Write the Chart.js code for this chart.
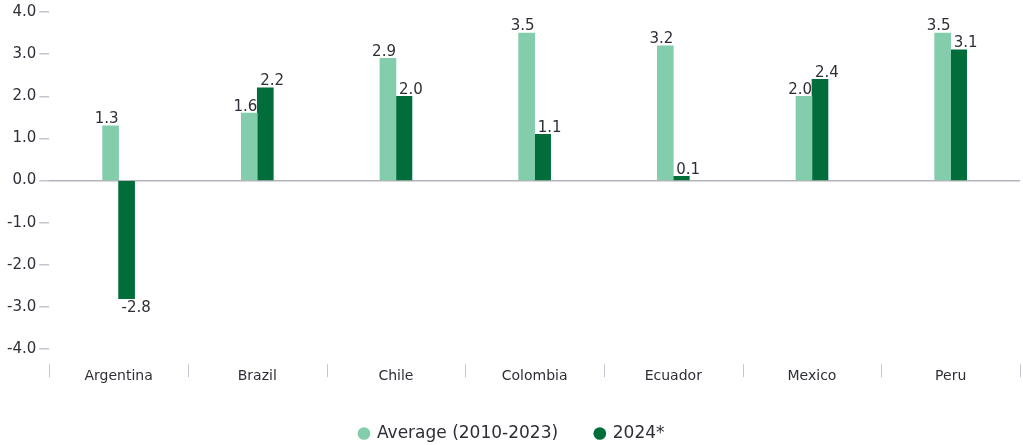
<!DOCTYPE html>
<html>
<head>
<meta charset="utf-8">
<title>Real GDP growth</title>
<script src="https://cdn.jsdelivr.net/npm/chart.js@4/dist/chart.umd.min.js"></script>
<style>
  html, body { margin: 0; padding: 0; background: #fff; }
  #wrap { width: 1023px; height: 445px; }
</style>
</head>
<body>
<div id="wrap"><canvas id="growthChart" width="1023" height="445"></canvas></div>
<script>
const countries = ['Argentina', 'Brazil', 'Chile', 'Colombia', 'Ecuador', 'Mexico', 'Peru'];
const average2010to2023 = [1.3, 1.6, 2.9, 3.5, 3.2, 2.0, 3.5];
const growth2024 = [-2.8, 2.2, 2.0, 1.1, 0.1, 2.4, 3.1];
const seriesNames = ['Average (2010-2023)', '2024*'];

const lightGreen = '#83cdad';
const darkGreen = '#016d3a';
const textColor = '#2e2e38';
const ruleColor = '#c4c4cd';

// value labels: light bar text hugs its right edge, dark bar text starts at its left edge
const barValues = {
  id: 'barValues',
  afterDatasetsDraw(chart) {
    const ctx = chart.ctx;
    ctx.save();
    ctx.font = '15px "DejaVu Sans"';
    ctx.fillStyle = textColor;
    chart.data.datasets.forEach((ds, di) => {
      const meta = chart.getDatasetMeta(di);
      meta.data.forEach((bar, i) => {
        const v = ds.data[i];
        const half = bar.width / 2;
        let x;
        if (di === 0) {
          ctx.textAlign = 'right';
          x = bar.x + half;
        } else {
          ctx.textAlign = 'left';
          x = bar.x - half + 3;
        }
        if (v >= 0) {
          ctx.textBaseline = 'bottom';
          ctx.fillText(v.toFixed(1), x, bar.y + 1);
        } else {
          ctx.textBaseline = 'top';
          ctx.fillText(v.toFixed(1), x, bar.y + 2);
        }
      });
    });
    ctx.restore();
  }
};

// short separators between the country groups, a little below the plot
const groupTicks = {
  id: 'groupTicks',
  afterDraw(chart) {
    const xs = chart.scales.x;
    const n = countries.length;
    const step = (xs.right - xs.left) / n;
    const top = chart.chartArea.bottom + 15;
    const ctx = chart.ctx;
    ctx.save();
    ctx.strokeStyle = ruleColor;
    ctx.lineWidth = 1;
    for (let i = 0; i <= n; i++) {
      const x = Math.round(xs.left + i * step) + 0.5;
      ctx.beginPath();
      ctx.moveTo(x, top);
      ctx.lineTo(x, top + 13);
      ctx.stroke();
    }
    ctx.restore();
  }
};

const defaultLabels = Chart.defaults.plugins.legend.labels.generateLabels;

new Chart(document.getElementById('growthChart'), {
  type: 'bar',
  data: {
    labels: countries,
    datasets: [
      { label: seriesNames[0], data: average2010to2023, backgroundColor: lightGreen, barThickness: 16 },
      { label: seriesNames[1], data: growth2024, backgroundColor: darkGreen, barThickness: 16 }
    ]
  },
  options: {
    responsive: false,
    animation: false,
    layout: { padding: { top: 5, right: 3, left: 4, bottom: -7 } },
    plugins: {
      tooltip: { enabled: false },
      legend: {
        position: 'bottom',
        labels: {
          usePointStyle: true,
          pointStyle: 'circle',
          boxWidth: 9,
          boxHeight: 9,
          padding: 21,
          color: textColor,
          font: { family: 'DejaVu Sans', size: 17 },
          // extra room after the first entry without a taller legend row
          generateLabels: chart => defaultLabels(chart).map((item, i) => {
            if (i === 0) item.text += '   ';
            return item;
          })
        }
      }
    },
    scales: {
      x: {
        grid: { display: false, drawTicks: false },
        border: { display: false },
        ticks: {
          color: textColor,
          padding: 19,
          font: { family: 'DejaVu Sans', size: 14 }
        }
      },
      y: {
        min: -4,
        max: 4,
        border: { display: false },
        grid: {
          color: ctx => ctx.tick && ctx.tick.value === 0 ? '#b4b4bc' : 'transparent',
          tickColor: ruleColor,
          tickLength: 10,
          lineWidth: 1.5
        },
        ticks: {
          stepSize: 1,
          padding: 3,
          color: textColor,
          font: { family: 'DejaVu Sans', size: 15 },
          callback: v => v.toFixed(1)
        }
      }
    }
  },
  plugins: [barValues, groupTicks]
});
</script>
</body>
</html>
